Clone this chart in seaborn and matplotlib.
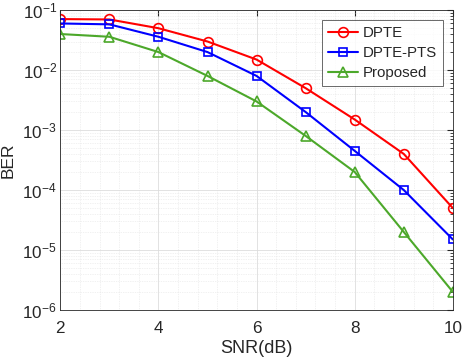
import matplotlib
matplotlib.use("Agg")
import matplotlib.pyplot as plt
import seaborn as sns
import pandas as pd
import numpy as np
from matplotlib.ticker import LogLocator, NullFormatter

snr = [2, 3, 4, 5, 6, 7, 8, 9, 10]
dpte = [0.071, 0.070, 0.050, 0.030, 0.015, 0.005, 0.0015, 4.0e-4, 5.0e-5]
dpte_pts = [0.060, 0.058, 0.036, 0.020, 0.008, 0.002, 4.5e-4, 1.0e-4, 1.5e-5]
proposed = [0.040, 0.036, 0.020, 0.008, 0.003, 8.0e-4, 2.0e-4, 2.0e-5, 2.0e-6]
series_names = ["DPTE", "DPTE-PTS", "Proposed"]

df = pd.DataFrame({
    "SNR": snr * 3,
    "BER": dpte + dpte_pts + proposed,
    "Scheme": [series_names[0]] * len(snr) + [series_names[1]] * len(snr) + [series_names[2]] * len(snr),
})

sns.set_style("white")
plt.rcParams['font.family'] = ['Liberation Sans', 'DejaVu Sans']
plt.rcParams['mathtext.fontset'] = 'custom'
plt.rcParams['mathtext.rm'] = 'Liberation Sans'
plt.rcParams['mathtext.it'] = 'Liberation Sans:italic'
plt.rcParams['mathtext.bf'] = 'Liberation Sans:bold'
plt.rcParams['mathtext.default'] = 'regular'
plt.rcParams['axes.unicode_minus'] = False

fig, ax = plt.subplots(figsize=(4.64, 3.63), dpi=100)
fig.subplots_adjust(left=0.13, right=0.976, top=0.972, bottom=0.146)

palette = {"DPTE": "#ff0000", "DPTE-PTS": "#0000ff", "Proposed": "#4ca82a"}
markers = {"DPTE": "o", "DPTE-PTS": "s", "Proposed": "^"}
sizes = {"DPTE": 7, "DPTE-PTS": 6, "Proposed": 7}
for name in series_names:
    sub = df[df["Scheme"] == name]
    sns.lineplot(data=sub, x="SNR", y="BER", ax=ax, color=palette[name], marker=markers[name],
                 markersize=sizes[name], markerfacecolor="none", markeredgecolor=palette[name],
                 markeredgewidth=1.2, linewidth=1.5, label=name)

ax.set_yscale("log")
ax.set_xlim(2, 10)
ax.set_ylim(1e-6, 1e-1)
ax.set_xticks([2, 4, 6, 8, 10])
ax.yaxis.set_major_locator(LogLocator(base=10, numticks=10))
ax.yaxis.set_minor_locator(LogLocator(base=10, subs=np.arange(2, 10), numticks=10))
ax.yaxis.set_minor_formatter(NullFormatter())
ax.xaxis.set_minor_locator(matplotlib.ticker.MultipleLocator(0.4))

ax.grid(True, which="major", color="#dddddd", linewidth=0.6)
ax.grid(True, which="minor", color="#e4e4e4", linewidth=0.5, linestyle=(0, (1, 1.5)))
ax.tick_params(which="both", direction="in", top=True, right=True, colors="#262626", labelsize=12.3)
ax.tick_params(which="major", length=4)
ax.tick_params(which="minor", length=2)
ax.tick_params(axis="x", which="minor", length=0)
ax.tick_params(axis="x", which="major", pad=8)
ax.tick_params(axis="y", which="major", pad=2.5)
for s in ax.spines.values():
    s.set_color("#262626")
    s.set_linewidth(0.6)

ax.set_xlabel("SNR(dB)", fontsize=13, color="#262626", labelpad=3)
ax.set_ylabel("BER", fontsize=12.5, color="#262626")
ax.yaxis.set_label_coords(-0.115, 0.5)

leg = ax.legend(loc="upper right", fontsize=10.8, frameon=True, fancybox=False,
                edgecolor="#262626", handlelength=2.0, handletextpad=0.3,
                borderpad=0.4, labelspacing=0.4, borderaxespad=0.65)
leg.get_frame().set_linewidth(0.6)

fig.savefig("out.png", dpi=100)
